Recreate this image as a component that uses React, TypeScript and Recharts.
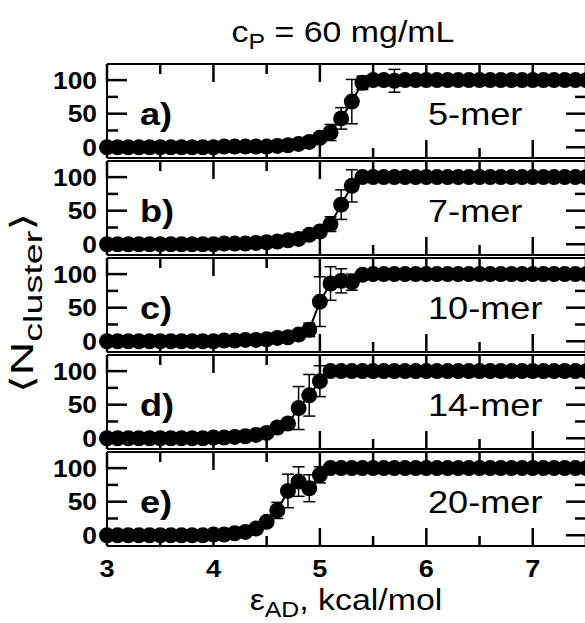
import React from 'react';
import { LineChart, Line, XAxis, YAxis, ErrorBar } from 'recharts';

// epsilon_AD grid (kcal/mol)
const eps = [
  3.0, 3.1, 3.2, 3.3, 3.4, 3.5, 3.6, 3.7, 3.8, 3.9,
  4.0, 4.1, 4.2, 4.3, 4.4, 4.5, 4.6, 4.7, 4.8, 4.9,
  5.0, 5.1, 5.2, 5.3, 5.4, 5.5, 5.6, 5.7, 5.8, 5.9,
  6.0, 6.1, 6.2, 6.3, 6.4, 6.5, 6.6, 6.7, 6.8, 6.9,
  7.0, 7.1, 7.2, 7.3, 7.4, 7.5,
];

const mer5 = [
  0, 0, 0, 0, 0, 0, 0, 0, 0, 0,
  0, 1, 1, 1, 1, 1, 2, 3, 5, 8,
  14, 22, 43, 68, 96, 100, 100, 99, 100, 100,
  100, 100, 100, 100, 100, 100, 100, 100, 100, 100,
  100, 100, 100, 100, 100, 100,
];
const mer5Err = [
  0, 0, 0, 0, 0, 0, 0, 0, 0, 0,
  0, 0, 0, 0, 0, 0, 0, 0, 1, 2,
  4, 12, 16, 33, 10, 2, 2, 17, 1, 1,
  0, 0, 0, 0, 0, 0, 0, 0, 0, 0,
  0, 0, 0, 0, 0, 0,
];

const mer7 = [
  0, 0, 0, 0, 0, 0, 0, 0, 0, 0,
  0, 1, 1, 1, 2, 3, 4, 6, 8, 14,
  19, 30, 59, 87, 100, 100, 100, 100, 100, 100,
  100, 100, 100, 100, 100, 100, 100, 100, 100, 100,
  100, 100, 100, 100, 100, 100,
];
const mer7Err = [
  0, 0, 0, 0, 0, 0, 0, 0, 0, 0,
  0, 0, 0, 0, 0, 0, 0, 1, 2, 3,
  6, 11, 22, 24, 3, 1, 1, 1, 0, 0,
  0, 0, 0, 0, 0, 0, 0, 0, 0, 0,
  0, 0, 0, 0, 0, 0,
];

const mer10 = [
  0, 0, 0, 0, 0, 0, 0, 0, 0, 0,
  0, 1, 1, 2, 2, 3, 5, 6, 10, 17,
  59, 86, 90, 88, 99, 100, 100, 100, 100, 100,
  100, 100, 100, 100, 100, 100, 100, 100, 100, 100,
  100, 100, 100, 100, 100, 100,
];
const mer10Err = [
  0, 0, 0, 0, 0, 0, 0, 0, 0, 0,
  0, 0, 0, 0, 0, 0, 1, 2, 4, 10,
  37, 25, 18, 12, 3, 1, 1, 0, 0, 0,
  0, 0, 0, 0, 0, 0, 0, 0, 0, 0,
  0, 0, 0, 0, 0, 0,
];

const mer14 = [
  0, 0, 0, 0, 0, 0, 0, 0, 0, 0,
  1, 1, 2, 3, 5, 8, 16, 22, 45, 64,
  85, 100, 100, 100, 100, 100, 100, 100, 100, 100,
  100, 100, 100, 100, 100, 100, 100, 100, 100, 100,
  100, 100, 100, 100, 100, 100,
];
const mer14Err = [
  0, 0, 0, 0, 0, 0, 0, 0, 0, 0,
  0, 0, 0, 1, 1, 2, 5, 7, 32, 31,
  23, 3, 1, 0, 0, 0, 0, 0, 0, 0,
  0, 0, 0, 0, 0, 0, 0, 0, 0, 0,
  0, 0, 0, 0, 0, 0,
];

const mer20 = [
  0, 0, 0, 0, 0, 0, 0, 0, 0, 0,
  1, 1, 3, 5, 10, 20, 37, 66, 80, 70,
  90, 100, 100, 100, 100, 100, 100, 100, 100, 100,
  100, 100, 100, 100, 100, 100, 100, 100, 100, 100,
  100, 100, 100, 100, 100, 100,
];
const mer20Err = [
  0, 0, 0, 0, 0, 0, 0, 0, 0, 0,
  0, 0, 1, 1, 2, 5, 12, 25, 22, 20,
  12, 3, 1, 0, 0, 0, 0, 0, 0, 0,
  0, 0, 0, 0, 0, 0, 0, 0, 0, 0,
  0, 0, 0, 0, 0, 0,
];

const xTicks = [3, 3.5, 4, 4.5, 5, 5.5, 6, 6.5, 7, 7.5];
const yTicks = [0, 25, 50, 75, 100];
const panelTags = ['a)', 'b)', 'c)', 'd)', 'e)'];
const merLabels = ['5-mer', '7-mer', '10-mer', '14-mer', '20-mer'];

const rows = eps.map((x, i) => ({
  x,
  a: mer5[i], aE: mer5Err[i],
  b: mer7[i], bE: mer7Err[i],
  c: mer10[i], cE: mer10Err[i],
  d: mer14[i], dE: mer14Err[i],
  e: mer20[i], eE: mer20Err[i],
}));
const keys = ['a', 'b', 'c', 'd', 'e'];

const FONT = '"Liberation Sans", Arial, Helvetica, sans-serif';
const X_DOMAIN = [3, 7.5];
const Y_DOMAIN = [-16, 124];
const PLOT_TOP = 64;
const PITCH = 97;
const PLOT_H = 94;
const PLOT_LEFT = 107;
const PLOT_W = 479;
const SX = 1.13;
const AX = { stroke: '#000', strokeWidth: 2 };
const MINOR = 11;
const MAJOR = 20;

// same linear maps as the chart axes, used for the inward tick marks
const px = (v: number) => PLOT_LEFT + ((v - X_DOMAIN[0]) / (X_DOMAIN[1] - X_DOMAIN[0])) * PLOT_W;
const py = (i: number, v: number) =>
  PLOT_TOP + i * PITCH + ((Y_DOMAIN[1] - v) / (Y_DOMAIN[1] - Y_DOMAIN[0])) * PLOT_H;

function XLabel(props: any) {
  const { x, y, payload, showLabel } = props;
  if (!showLabel || !Number.isInteger(payload.value)) return <g />;
  return (
    <text transform={`translate(${x},${y + 31}) scale(${SX},1)`} textAnchor="middle"
      fontFamily={FONT} fontWeight="bold" fontSize={24} fill="#000">
      {payload.value}
    </text>
  );
}

function YLabel(props: any) {
  const { x, y, payload } = props;
  if (payload.value % 50 !== 0) return <g />;
  return (
    <text transform={`translate(${x - 10},${y + 8.5}) scale(1.1,1)`} textAnchor="end"
      fontFamily={FONT} fontWeight="bold" fontSize={24} fill="#000">
      {payload.value}
    </text>
  );
}

function Panel({ idx }: { idx: number }) {
  const k = keys[idx];
  const last = idx === keys.length - 1;
  const bottom = last ? 54 : 4;
  const top = 4;
  return (
    <div style={{ position: 'absolute', left: 0, top: PLOT_TOP + idx * PITCH - top - 1 }}>
      <LineChart width={600} height={PLOT_H + top + bottom + 2} data={rows}
        margin={{ top, right: 600 - PLOT_LEFT - PLOT_W, bottom, left: PLOT_LEFT - 40 }}>
        <XAxis xAxisId="b" type="number" dataKey="x" domain={X_DOMAIN} ticks={xTicks} interval={0}
          height={1} tickSize={0} tickMargin={0} tickLine={false} axisLine={AX}
          tick={(p: any) => <XLabel {...p} showLabel={last} />} />
        <XAxis xAxisId="t" orientation="top" type="number" dataKey="x" domain={X_DOMAIN} ticks={xTicks}
          interval={0} height={1} tickSize={0} tickMargin={0} tickLine={false} axisLine={AX} tick={false} />
        <YAxis yAxisId="l" type="number" domain={Y_DOMAIN} ticks={yTicks} interval={0} width={40}
          tickSize={0} tickMargin={0} tickLine={false} axisLine={AX}
          tick={(p: any) => <YLabel {...p} />} />
        <Line xAxisId="b" yAxisId="l" dataKey={k} stroke="#000" strokeWidth={2}
          dot={{ r: 8, fill: '#000', stroke: '#000', strokeWidth: 0 }}
          isAnimationActive={false}>
          <ErrorBar dataKey={k + 'E'} width={6} stroke="#000" strokeWidth={1.5} direction="y" />
        </Line>
      </LineChart>
    </div>
  );
}

function TickMarks() {
  return (
    <g>
      {keys.map((_, i) => {
        const t = PLOT_TOP + i * PITCH;
        const b = t + PLOT_H;
        const r = PLOT_LEFT + PLOT_W;
        return (
          <g key={i}>
            {xTicks.map((v) => {
              const len = Number.isInteger(v) ? MAJOR - 2 : MINOR - 1;
              const x = px(v);
              return (
                <g key={v}>
                  <line x1={x} x2={x} y1={b} y2={b - len} stroke="#000" strokeWidth={2.5} />
                  <line x1={x} x2={x} y1={t} y2={t + len} stroke="#000" strokeWidth={2.5} />
                </g>
              );
            })}
            {yTicks.map((v) => {
              const len = v % 50 === 0 ? MAJOR : MINOR;
              const y = py(i, v);
              return (
                <g key={v}>
                  <line x1={PLOT_LEFT} x2={PLOT_LEFT + len} y1={y} y2={y} stroke="#000" strokeWidth={2.5} />
                  <line x1={r} x2={r - len} y1={y} y2={y} stroke="#000" strokeWidth={2.5} />
                </g>
              );
            })}
          </g>
        );
      })}
    </g>
  );
}

export default function App() {
  return (
    <div style={{ position: 'absolute', left: 0, top: 0, width: 585, height: 623, overflow: 'hidden', background: '#fff' }}>
      {keys.map((_, i) => <Panel key={i} idx={i} />)}
      <svg width={585} height={623} style={{ position: 'absolute', left: 0, top: 0, pointerEvents: 'none' }}>
        <TickMarks />
        <text transform={`translate(343,42) scale(${SX},1)`} textAnchor="middle" fontFamily={FONT} fontSize={30} fill="#000">
          <tspan>c</tspan>
          <tspan fontSize={22} dy={7}>P</tspan>
          <tspan dy={-7}> = 60 mg/mL</tspan>
        </text>
        <text transform={`translate(346,610) scale(${SX},1)`} textAnchor="middle" fontFamily={FONT} fontSize={30} fill="#000">
          <tspan>ε</tspan>
          <tspan fontSize={22} dy={7}>AD</tspan>
          <tspan dy={-7}>, kcal/mol</tspan>
        </text>
        <text transform="translate(33,303) rotate(-90) scale(1.45,1)" textAnchor="middle" fontFamily={FONT} fontSize={32} fill="#000">
          <tspan fontFamily="DejaVu Sans">⟨</tspan>
          <tspan>N</tspan>
          <tspan fontSize={26} dy={9}>cluster</tspan>
          <tspan dy={-9} fontFamily="DejaVu Sans">⟩</tspan>
        </text>
        {panelTags.map((t, i) => (
          <text key={t} transform={`translate(140,${PLOT_TOP + i * PITCH + 61}) scale(${SX},1)`}
            fontFamily={FONT} fontWeight="bold" fontSize={32} fill="#000">{t}</text>
        ))}
        {merLabels.map((t, i) => (
          <text key={t} transform={`translate(428,${PLOT_TOP + i * PITCH + 61}) scale(${SX},1)`}
            fontFamily={FONT} fontSize={32} fill="#000">{t}</text>
        ))}
      </svg>
    </div>
  );
}
